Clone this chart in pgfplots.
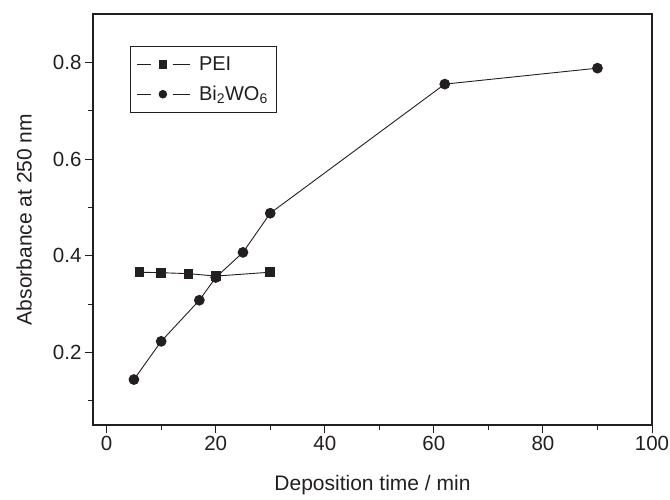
\documentclass[border=0pt]{standalone}
\usepackage{fontspec}
\setmainfont{Liberation Sans}
\usepackage{pgfplots}
\pgfplotsset{compat=1.18}
\definecolor{ink}{HTML}{231F20}
\begin{document}
\begin{tikzpicture}
\path[use as bounding box] (-93pt,-74pt) rectangle (577pt,425pt);
\begin{axis}[
  scale only axis, width=559pt, height=411pt,
  xmin=-2.5, xmax=100, ymin=0.05, ymax=0.9,
  axis line style={ink, line width=1.2pt},
  xtick={0,20,40,60,80,100}, minor xtick={10,30,50,70,90},
  ytick={0.2,0.4,0.6,0.8}, minor ytick={0.1,0.3,0.5,0.7},
  tick pos=left, tick align=outside,
  major tick length=8pt, minor tick length=4.5pt,
  every tick/.style={ink, line width=1pt},
  every minor tick/.style={ink, line width=1pt},
  /pgf/number format/assume math mode=true,
  tick label style={font=\fontsize{20.5}{25}\selectfont, text=ink},
  yticklabel style={/pgf/number format/.cd, fixed, fixed zerofill, precision=1},
  xlabel={Deposition time / min}, ylabel={Absorbance at 250 nm},
  label style={font=\fontsize{21}{25}\selectfont, text=ink},
  xlabel style={at={(axis description cs:0.5,-0.146)}, anchor=center},
  ylabel style={at={(axis description cs:-0.1234,0.5)}, anchor=center},
  legend style={at={(axis description cs:0.0662,0.922)}, anchor=north west,
    draw=ink, line width=0.8pt, font=\fontsize{20}{24}\selectfont, text=ink,
    nodes={font=\fontsize{20}{24}\selectfont, text=ink, inner sep=3pt},
    inner xsep=6pt, inner ysep=7.5pt, row sep=8pt, column sep=6pt, fill=white},
  legend cell align=left,
  legend image code/.code={
    \draw[#1] (0pt,0pt) -- (14.5pt,0pt);
    \draw[#1] (36pt,0pt) -- (52.7pt,0pt);
    \draw[#1, mark size=3.8pt] plot coordinates {(26pt,0pt)};
  },
]
\addplot[ink, line width=0.9pt, mark=square*, mark size=4.3pt, mark options={solid, fill=ink}]
  coordinates {(6,0.366) (10,0.365) (15,0.363) (20,0.358) (30,0.366)};
\addlegendentry{PEI}
\addplot[ink, line width=0.9pt, mark=*, mark size=4.9pt, mark options={solid, fill=ink}]
  coordinates {(5,0.144) (10,0.223) (17,0.308) (20,0.355) (25,0.407) (30,0.488) (62,0.755) (90,0.788)};
\addlegendentry{Bi\textsubscript{2}WO\textsubscript{6}}
\end{axis}
\end{tikzpicture}
\end{document}
